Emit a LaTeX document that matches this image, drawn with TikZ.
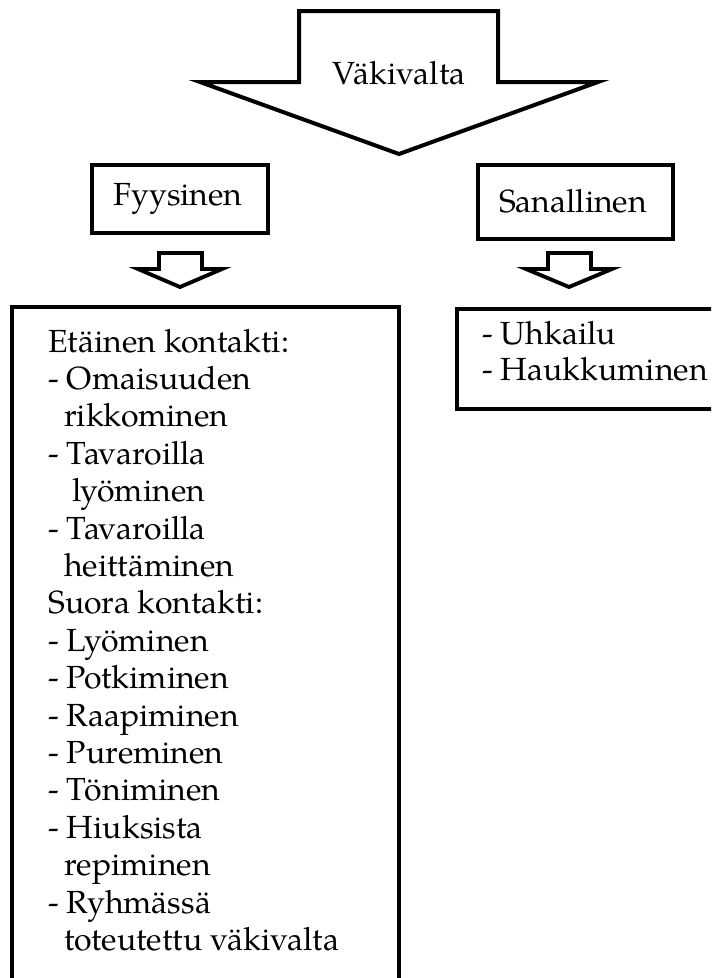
\documentclass[tikz,border=0pt]{standalone}
\usepackage{fontspec}
\setmainfont{TeX Gyre Pagella}
\begin{document}
\begin{tikzpicture}[x=0.75pt,y=-0.75pt,
  outline/.style={draw=black, line width=2.9pt, line join=miter, fill=white},
  box/.style={outline, anchor=north west, inner sep=0pt},
  txt/.style={anchor=base west, inner sep=0pt, font=\fontsize{24}{28}\selectfont},
  ctxt/.style={anchor=base, inner sep=0pt, font=\fontsize{24}{28}\selectfont}]
\useasboundingbox (0,0) rectangle (711,978);
\clip (0,0) rectangle (711,978);
\fill[white] (0,0) rectangle (711,978);

% big block arrow
\draw[outline, line width=3pt] (299,11) -- (498,11) -- (498,82) -- (598,82) -- (399,154) -- (200,82) -- (299,82) -- cycle;
\node[ctxt] (vaki) at (399,84) {Väkivalta};

% category boxes
\node[box, minimum width=132pt, minimum height=51pt] (fyy) at (90,163) {};
\node[ctxt] (fyyt) at (178,205) {Fyysinen};
\node[box, minimum width=146.25pt, minimum height=55.5pt] (san) at (476,163) {};
\node[ctxt] (sant) at (573,212) {Sanallinen};

% small block arrows
\draw[outline] (159,253) -- (202,253) -- (202,269) -- (222,269) -- (180,287) -- (138,269) -- (159,269) -- cycle;
\draw[outline] (548,253) -- (591,253) -- (591,269) -- (612,269) -- (569,287) -- (526,269) -- (548,269) -- cycle;

% content boxes
\node[box, minimum width=290.25pt, minimum height=521.25pt] (fyybox) at (10,305) {};
\node[box, minimum width=213.75pt, minimum height=75pt] (sanbox) at (455,307) {};

% left box text
\node[txt] (l1)  at (48,352)   {Etäinen kontakti:};
\node[txt] (l2)  at (48,389.4) {- Omaisuuden};
\node[txt] (l3)  at (64,426.8) {rikkominen};
\node[txt] (l4)  at (48,464.2) {- Tavaroilla};
\node[txt] (l5)  at (72,501.6) {lyöminen};
\node[txt] (l6)  at (48,539)   {- Tavaroilla};
\node[txt] (l7)  at (64,576.4) {heittäminen};
\node[txt] (l8)  at (48,613.8) {Suora kontakti:};
\node[txt] (l9)  at (48,651.2) {- Lyöminen};
\node[txt] (l10) at (48,688.6) {- Potkiminen};
\node[txt] (l11) at (48,726)   {- Raapiminen};
\node[txt] (l12) at (48,763.4) {- Pureminen};
\node[txt] (l13) at (48,800.8) {- Töniminen};
\node[txt] (l14) at (48,838.2) {- Hiuksista};
\node[txt] (l15) at (64,875.6) {repiminen};
\node[txt] (l16) at (48,913)   {- Ryhmässä};
\node[txt] (l17) at (64,950.4) {toteutettu väkivalta};

% right box text
\node[txt] (r1) at (482,344) {- Uhkailu};
\node[txt] (r2) at (482,380) {- Haukkuminen};
\end{tikzpicture}
\end{document}
